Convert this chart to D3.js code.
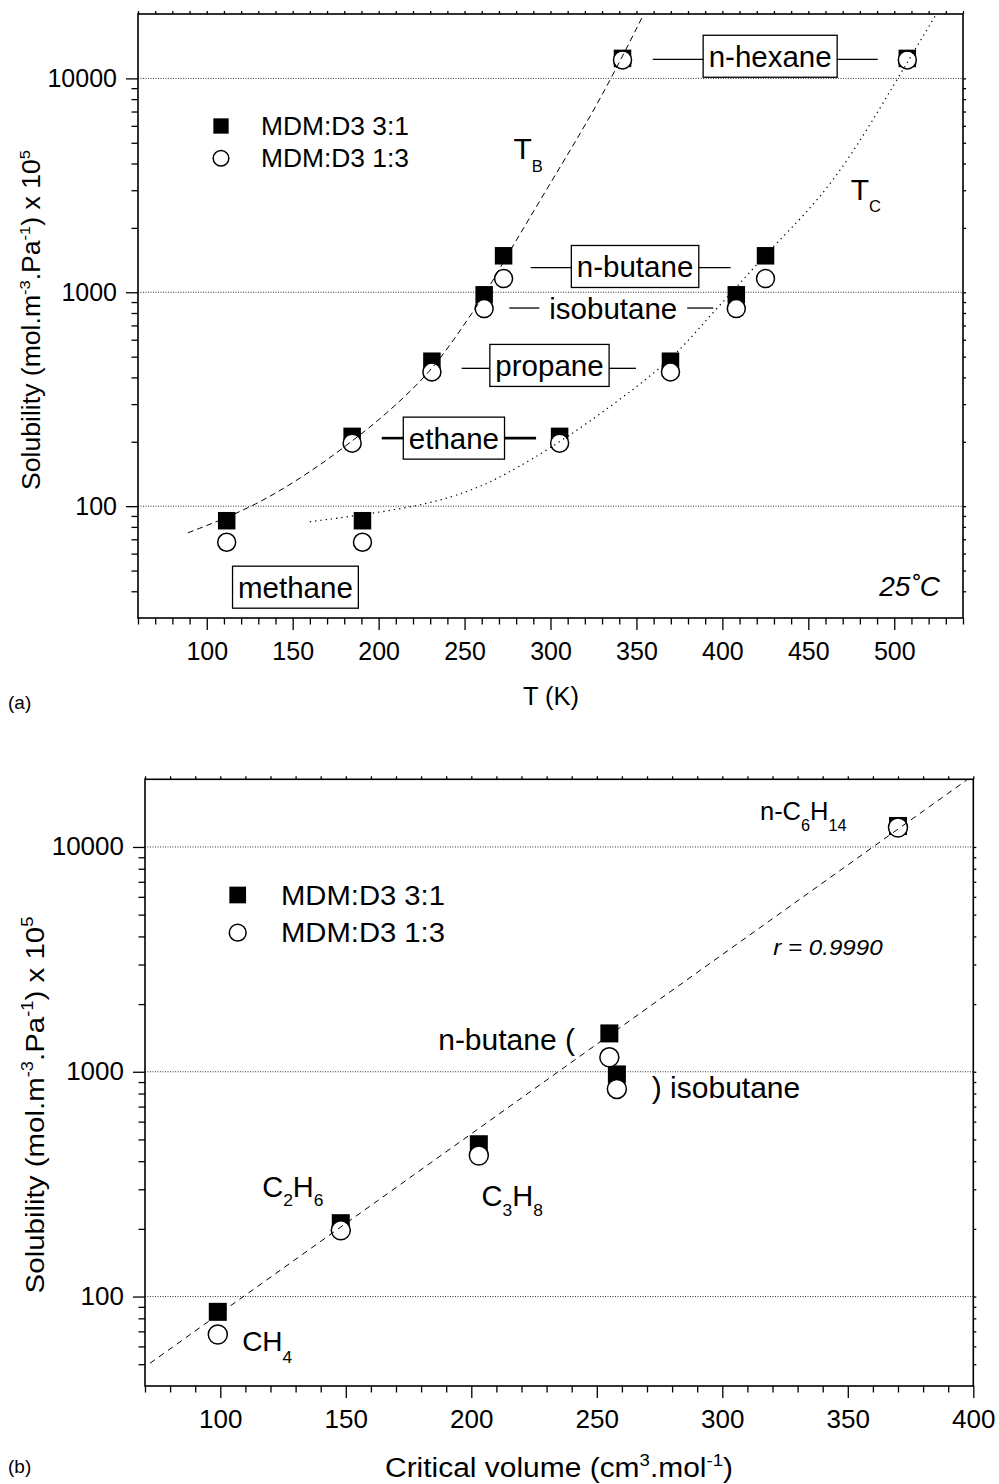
<!DOCTYPE html>
<html><head><meta charset="utf-8">
<script src="https://cdnjs.cloudflare.com/ajax/libs/d3/7.8.5/d3.min.js"></script>
<style>html,body{margin:0;padding:0;background:#fff} svg{display:block;font-family:"Liberation Sans",Arial,Helvetica,sans-serif}</style>
</head><body><svg id="c" width="999" height="1484"></svg>
<script>
// ---------------- data ----------------
const gases = ["methane", "ethane", "propane", "isobutane", "n-butane", "n-hexane"];
const boilingT = [111.6, 184.6, 231.0, 261.4, 272.7, 341.9];      // K
const criticalT = [190.6, 305.3, 369.8, 408.1, 425.1, 507.6];     // K
const criticalV = [99, 148, 203, 258, 255, 370];                  // cm3/mol
const sol31 = [85.5, 212, 476, 973, 1481, 12400];                 // MDM:D3 3:1
const sol13 = [67.8, 197, 424, 839, 1159, 12200];                 // MDM:D3 1:3
const seriesNames = ["MDM:D3 3:1", "MDM:D3 1:3"];

// fitted curves
const fitTB_T = [89, 129, 166, 185, 203, 231, 249, 261, 271, 279, 308, 329, 354];
const fitTB_S = [75, 100, 155, 203, 263, 427, 692, 955, 1312, 1694, 4150, 7925, 19770];
const fitTC_T = [160, 228, 259, 271, 306, 368, 386, 410, 430, 465, 502, 524];
const fitTC_S = [84.5, 100, 123, 137, 197, 457, 676, 1096, 1660, 3162, 10000, 19680];
const fitVc_V = [72, 397.4];
const fitVc_S = [50.5, 19860];

const xTicksA = [100, 150, 200, 250, 300, 350, 400, 450, 500];
const xTicksB = [100, 150, 200, 250, 300, 350, 400];
const yTicks = [100, 1000, 10000];

// ---------------- layout ----------------
const svg = d3.select("#c");
const A = {L: 138, R: 963, T: 14, B: 618};
const B = {L: 145, R: 973.3, T: 779.3, B: 1386};
const xA = d3.scaleLinear().domain([60, 540]).range([A.L, A.R]);
const yA = d3.scaleLog().domain([30, 20000]).range([A.B, A.T]);
const xB = d3.scaleLinear().domain([70, 400]).range([B.L, B.R]);
const yB = d3.scaleLog().domain([40, 20000]).range([B.B, B.T]);

function richText(parent, o) {
  const g = parent.append("g").attr("transform", `translate(${o.x},${o.y})` + (o.rotate ? ` rotate(${o.rotate})` : ""));
  const t = g.append("text").attr("font-size", o.size).attr("text-anchor", o.anchor || "start").attr("fill", "#000");
  if (o.italic) t.attr("font-style", "italic");
  let cur = 0;
  o.parts.forEach(p => {
    const s = typeof p === "string" ? p : p[0];
    const kind = typeof p === "string" ? "" : p[1];
    const target = kind === "sub" ? o.size * (o.subShift ?? 0.38) : kind === "sup" ? -o.size * (o.supShift ?? 0.4) : 0;
    const ts = t.append("tspan").text(s).attr("dy", (target - cur).toFixed(2));
    if (kind) ts.attr("font-size", o.size * (o.smallScale ?? 0.62));
    cur = target;
  });
  if (o.width) {
    const w = t.node().getBBox().width;
    if (w > 0) t.attr("transform", `scale(${o.width / w},1)`);
  }
  return g;
}

function logMinors(dom) {
  const out = [];
  for (let e = 0; e < 6; e++) for (let m = 2; m <= 9; m++) {
    const v = m * Math.pow(10, e);
    if (v > dom[0] && v < dom[1]) out.push(v);
  }
  return out;
}

function panel(P, x, y, xMajor, o) {
  const g = svg.append("g");
  g.selectAll("line.grid").data(yTicks).join("line").attr("class", "grid")
    .attr("x1", P.L).attr("x2", P.R).attr("y1", d => y(d)).attr("y2", d => y(d))
    .attr("stroke", "#333").attr("stroke-width", 1).attr("stroke-dasharray", "1,1.5");
  const ax = (axis, tr) => {
    const a = g.append("g").attr("transform", tr).call(axis);
    a.select(".domain").remove();
    a.attr("font-family", null).attr("font-size", null);
    a.selectAll("line").attr("stroke", "#000").attr("stroke-width", 1.3);
    return a;
  };
  const xd = x.domain();
  const xMinor = d3.range(xd[0], xd[1] + 0.001, 10).filter(v => !xMajor.includes(v));
  const yMinor = logMinors(y.domain());
  ax(d3.axisBottom(x).tickValues(xMinor).tickSize(6.5).tickFormat(""), `translate(0,${P.B})`);
  const xa = ax(d3.axisBottom(x).tickValues(xMajor).tickSize(12).tickFormat(d3.format("d")), `translate(0,${P.B})`);
  xa.selectAll("text").attr("y", o.xLabelDy).attr("dy", null).attr("font-size", o.tickSize).attr("fill", "#000");
  ax(d3.axisLeft(y).tickValues(yMinor).tickSize(6.5).tickFormat(""), `translate(${P.L},0)`);
  const ya = ax(d3.axisLeft(y).tickValues(yTicks).tickSize(12).tickFormat(d3.format("d")), `translate(${P.L},0)`);
  ya.selectAll("text").attr("x", -21).attr("y", o.yLabelDy).attr("dy", null).attr("font-size", o.tickSize).attr("fill", "#000");
  ax(d3.axisTop(x).tickValues(d3.range(xd[0], xd[1] + 0.001, 10)).tickSize(3).tickFormat(""), `translate(0,${P.T})`);
  ax(d3.axisRight(y).tickValues(yMinor.concat(yTicks)).tickSize(3).tickFormat(""), `translate(${P.R},0)`);
  g.append("rect").attr("x", P.L).attr("y", P.T).attr("width", P.R - P.L).attr("height", P.B - P.T)
    .attr("fill", "none").attr("stroke", "#000").attr("stroke-width", 1.6);
  const id = "clip" + Math.round(P.T);
  svg.append("clipPath").attr("id", id).append("rect").attr("x", P.L).attr("y", P.T).attr("width", P.R - P.L).attr("height", P.B - P.T);
  return {g, clip: `url(#${id})`};
}

function markers(g, xs, s1, s2, x, y, sq, r) {
  g.selectAll(null).data(xs.map((v, i) => [v, s1[i]])).join("rect")
    .attr("x", d => x(d[0]) - sq / 2).attr("y", d => y(d[1]) - sq / 2).attr("width", sq).attr("height", sq).attr("fill", "#000");
  g.selectAll(null).data(xs.map((v, i) => [v, s2[i]])).join("circle")
    .attr("cx", d => x(d[0])).attr("cy", d => y(d[1])).attr("r", r)
    .attr("fill", "#fff").attr("stroke", "#000").attr("stroke-width", 1.5);
}

function legend(g, cx, y1, y2, tx, sq, r, fs, width) {
  g.append("rect").attr("x", cx - sq / 2).attr("y", y1 - sq / 2).attr("width", sq).attr("height", sq).attr("fill", "#000");
  g.append("circle").attr("cx", cx).attr("cy", y2).attr("r", r).attr("fill", "#fff").attr("stroke", "#000").attr("stroke-width", 1.5);
  richText(g, {x: tx, y: y1 + fs * 0.36, size: fs, parts: [seriesNames[0]], width});
  richText(g, {x: tx, y: y2 + fs * 0.36, size: fs, parts: [seriesNames[1]], width});
}

// ================= panel (a) =================
const pa = panel(A, xA, yA, xTicksA, {tickSize: 25, xLabelDy: 42, yLabelDy: 8.5});
markers(pa.g, boilingT, sol31, sol13, xA, yA, 17.5, 9);
markers(pa.g, criticalT, sol31, sol13, xA, yA, 17.5, 9);

const lineA = d3.line().x(d => xA(d[0])).y(d => yA(d[1])).curve(d3.curveBasis);
pa.g.append("path").attr("clip-path", pa.clip).datum(fitTB_T.map((t, i) => [t, fitTB_S[i]]))
  .attr("d", lineA).attr("fill", "none").attr("stroke", "#000").attr("stroke-width", 1).attr("stroke-dasharray", "6,4");
pa.g.append("path").attr("clip-path", pa.clip).datum(fitTC_T.map((t, i) => [t, fitTC_S[i]]))
  .attr("d", lineA).attr("fill", "none").attr("stroke", "#000").attr("stroke-width", 1.2).attr("stroke-dasharray", "1.3,4");

const topLabels = [
  {text: "n-hexane", T: 427.8, S: 12690, box: true, left: 359.5, right: 490.4, lineS: 12280},
  {text: "n-butane", T: 349.2, S: 1320, box: true, left: 288.5, right: 404.8, lineS: 1303},
  {text: "isobutane", T: 336.5, S: 844, box: false, left: 276.0, right: 394.7, lineS: 844},
  {text: "propane", T: 299.4, S: 455, box: true, left: 248.3, right: 349.7, lineS: 441},
  {text: "ethane", T: 243.8, S: 208, box: true, left: 201.8, right: 291.6, lineS: 208, thick: true},
  {text: "methane", T: 151.6, S: 41.8, box: true}
];
topLabels.forEach(l => {
  const fs = 29.5;
  const cx = xA(l.T), cy = yA(l.S);
  const grp = pa.g.append("g");
  const rect = grp.append("rect");
  const tg = richText(grp, {x: cx, y: cy + fs * 0.36, anchor: "middle", size: fs, parts: [l.text]});
  const w = tg.node().getBBox().width;
  const half = l.box ? w / 2 + 5.5 : w / 2 + 10;
  if (l.box) rect.attr("x", cx - half).attr("y", cy - 21).attr("width", 2 * half).attr("height", 42)
    .attr("fill", "#fff").attr("stroke", "#000").attr("stroke-width", 1.3);
  else rect.remove();
  if (l.left !== undefined) {
    const ly = yA(l.lineS);
    [[xA(l.left), cx - half], [cx + half, xA(l.right)]].forEach(([a, b]) => {
      grp.append("line").attr("x1", a).attr("x2", b).attr("y1", ly).attr("y2", ly)
        .attr("stroke", "#000").attr("stroke-width", l.thick ? 2.6 : 1.3);
    });
  }
});

richText(pa.g, {x: xA(278.4), y: yA(4184), size: 30, parts: ["T", ["B", "sub"]], subShift: 0.41, smallScale: 0.55});
richText(pa.g, {x: xA(474.7), y: yA(2700), size: 30, parts: ["T", ["C", "sub"]], subShift: 0.39, smallScale: 0.55});
richText(pa.g, {x: xA(526.6), y: yA(38.0), size: 28, anchor: "end", italic: true, parts: ["25˚C"]});

legend(pa.g, 221, 126, 158.3, 261, 15.3, 7.8, 25, 148);

richText(svg, {x: 40, y: 320, rotate: -90, anchor: "middle", size: 25, width: 340,
  parts: ["Solubility (mol.m", ["-3", "sup"], ".Pa", ["-1", "sup"], ") x 10", ["5", "sup"]]});
richText(svg, {x: 551, y: 705, anchor: "middle", size: 25.5, parts: ["T (K)"]});
richText(svg, {x: 8, y: 709, size: 19, parts: ["(a)"]});

// ================= panel (b) =================
const pb = panel(B, xB, yB, xTicksB, {tickSize: 26, xLabelDy: 42.3, yLabelDy: 8});
markers(pb.g, criticalV, sol31, sol13, xB, yB, 18, 9.5);
const lineB = d3.line().x(d => xB(d[0])).y(d => yB(d[1]));
pb.g.append("path").attr("clip-path", pb.clip).datum(fitVc_V.map((v, i) => [v, fitVc_S[i]]))
  .attr("d", lineB).attr("fill", "none").attr("stroke", "#000").attr("stroke-width", 1).attr("stroke-dasharray", "6,5");

richText(pb.g, {x: xB(315.0), y: yB(13180), size: 25.5, parts: ["n-C", ["6", "sub"], "H", ["14", "sub"]], subShift: 0.42, smallScale: 0.64});
richText(pb.g, {x: xB(320.3), y: yB(3307), size: 22.5, italic: true, parts: ["r = 0.9990"], width: 110});
richText(pb.g, {x: xB(241.3), y: yB(1250), size: 30, anchor: "end", parts: ["n-butane ("]});
richText(pb.g, {x: xB(271.9), y: yB(762), size: 30, parts: [") isobutane"]});
richText(pb.g, {x: xB(116.7), y: yB(278), size: 29, parts: ["C", ["2", "sub"], "H", ["6", "sub"]], subShift: 0.33, smallScale: 0.6});
richText(pb.g, {x: xB(204.1), y: yB(253), size: 29, parts: ["C", ["3", "sub"], "H", ["8", "sub"]], subShift: 0.33, smallScale: 0.6});
richText(pb.g, {x: xB(108.7), y: yB(57.4), size: 28, parts: ["CH", ["4", "sub"]], subShift: 0.43, smallScale: 0.62});

legend(pb.g, 237.7, 895, 932.7, 281, 16.7, 8.4, 27, 164);

richText(svg, {x: 44, y: 1105, rotate: -90, anchor: "middle", size: 26.5, width: 377,
  parts: ["Solubility (mol.m", ["-3", "sup"], ".Pa", ["-1", "sup"], ") x 10", ["5", "sup"]]});
richText(svg, {x: 559, y: 1477, anchor: "middle", size: 28, width: 348,
  parts: ["Critical volume (cm", ["3", "sup"], ".mol", ["-1", "sup"], ")"]});
richText(svg, {x: 8, y: 1473, size: 19, parts: ["(b)"]});
</script></body></html>
